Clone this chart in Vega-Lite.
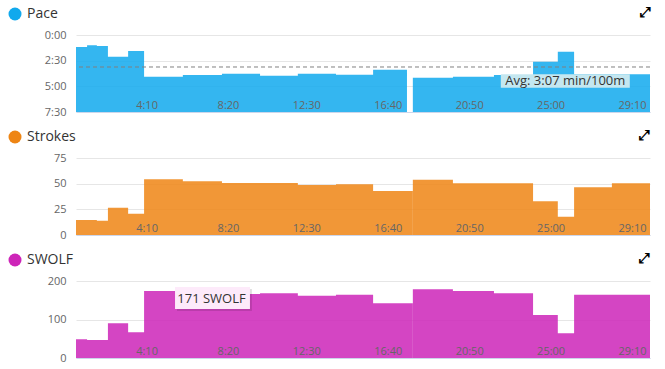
{
  "$schema": "https://vega.github.io/schema/vega-lite/v6.json",
  "padding": {"left": 8, "top": 6, "right": 5, "bottom": 5},
  "background": "#ffffff",
  "config": {
    "view": {"stroke": null},
    "font": "Open Sans",
    "axis": {"labelFont": "Open Sans", "labelFontSize": 11, "labelColor": "#666666"},
    "legend": {"labelFont": "Open Sans"}
  },
  "datasets": {
    "laps": [
      {"t": 0, "block": 1, "pace": 70, "strokes": 14.6, "swolf": 49},
      {"t": 34, "block": 1, "pace": 60, "strokes": 14.6, "swolf": 46.6},
      {"t": 64, "block": 1, "pace": 64, "strokes": 14, "swolf": 46.6},
      {"t": 98, "block": 1, "pace": 127, "strokes": 26.6, "swolf": 90.5},
      {"t": 160, "block": 1, "pace": 93, "strokes": 20.8, "swolf": 67},
      {"t": 209, "block": 1, "pace": 244, "strokes": 54.2, "swolf": 174},
      {"t": 328, "block": 1, "pace": 234, "strokes": 52.3, "swolf": 171},
      {"t": 448, "block": 1, "pace": 226, "strokes": 50.6, "swolf": 166},
      {"t": 565, "block": 1, "pace": 238, "strokes": 50.6, "swolf": 168},
      {"t": 681, "block": 1, "pace": 226, "strokes": 48.7, "swolf": 162},
      {"t": 798, "block": 1, "pace": 232, "strokes": 49.4, "swolf": 164.5},
      {"t": 912, "block": 1, "pace": 203, "strokes": 42.9, "swolf": 142},
      {"t": 1016, "block": 1, "pace": 203, "strokes": 42.9, "swolf": 142},
      {"t": 1034, "block": 2, "pace": 250, "strokes": 53.8, "swolf": 178.5},
      {"t": 1157, "block": 2, "pace": 244, "strokes": 50.3, "swolf": 174},
      {"t": 1283, "block": 2, "pace": 234, "strokes": 50.3, "swolf": 168},
      {"t": 1403, "block": 2, "pace": 156, "strokes": 32.8, "swolf": 112},
      {"t": 1479, "block": 2, "pace": 98, "strokes": 17.8, "swolf": 64.6},
      {"t": 1529, "block": 2, "pace": 230, "strokes": 46.4, "swolf": 164},
      {"t": 1645, "block": 2, "pace": 230, "strokes": 50.3, "swolf": 164},
      {"t": 1762, "block": 2, "pace": 230, "strokes": 50.3, "swolf": 164}
    ],
    "avg": [{"avgPace": 187, "t0": 1304, "t1": 1700, "p0": 230, "p1": 308, "tx": 1502, "py": 292, "label": "Avg: 3:07 min/100m"}],
    "tip": [{"t0": 304, "t1": 534, "s0": 127.5, "s1": 184.5, "st0": 310, "st1": 540, "ss0": 122, "ss1": 179.5, "tx": 416, "sy": 143, "label": "171 SWOLF"}]
  },
  "vconcat": [
    {
      "width": 574,
      "height": 77,
      "title": {"text": "⤢", "anchor": "end", "fontSize": 14, "fontWeight": "bold", "color": "#000000", "offset": -13, "font": "DejaVu Sans"},
      "layer": [
        {
          "data": {"name": "laps"},
          "mark": {"type": "area", "interpolate": "step-after", "fillOpacity": 0.85},
          "encoding": {
            "x": {"field": "t", "type": "quantitative", "title": null,
              "scale": {"domain": [0, 1762], "nice": false, "zero": false},
              "axis": {"values": [250, 500, 750, 1000, 1250, 1500, 1750], "labelExpr": "floor(datum.value/60) + ':' + (datum.value%60 < 10 ? '0' : '') + (datum.value%60)", "labelAlign": "right", "labelBaseline": "alphabetic", "labelPadding": -4, "ticks": false, "grid": false, "domainColor": "#ccd6eb", "zindex": 1, "labelFlush": false}},
            "y": {"field": "pace", "type": "quantitative", "title": null,
              "scale": {"domain": [0, 450], "reverse": true, "nice": false},
              "axis": {"values": [0, 150, 300, 450], "labelExpr": "floor(datum.value/60) + ':' + (datum.value%60 < 10 ? '0' : '') + (datum.value%60)", "ticks": false, "domain": false, "grid": true, "gridColor": "#e6e6e6", "labelPadding": 10, "labelOverlap": false, "zindex": 0}},
            "y2": {"datum": 450},
            "detail": {"field": "block"},
            "color": {"datum": "Pace", "scale": {"range": ["#11a9ed"]},
              "legend": {"orient": "none", "legendX": -68, "legendY": -28, "title": null, "symbolType": "circle", "symbolSize": 169, "symbolOpacity": 1, "symbolStrokeWidth": 0, "labelFontSize": 14, "labelColor": "#333333", "labelOffset": 5, "padding": 0}}
          }
        },
        {
          "data": {"name": "avg"},
          "mark": {"type": "rule", "strokeDash": [4, 3], "color": "#808080", "strokeWidth": 1},
          "encoding": {"y": {"field": "avgPace", "type": "quantitative", "title": null,
              "axis": {"values": [0, 150, 300, 450], "labelExpr": "floor(datum.value/60) + ':' + (datum.value%60 < 10 ? '0' : '') + (datum.value%60)", "ticks": false, "domain": false, "grid": true, "gridColor": "#e6e6e6", "labelPadding": 10, "labelOverlap": false, "zindex": 0}}}
        },
        {
          "data": {"name": "avg"},
          "mark": {"type": "rect", "color": "#c4e7f0"},
          "encoding": {
            "x": {"field": "t0", "type": "quantitative", "title": null,
              "axis": {"values": [250, 500, 750, 1000, 1250, 1500, 1750], "labelExpr": "floor(datum.value/60) + ':' + (datum.value%60 < 10 ? '0' : '') + (datum.value%60)", "labelAlign": "right", "labelBaseline": "alphabetic", "labelPadding": -4, "ticks": false, "grid": false, "domainColor": "#ccd6eb", "zindex": 1, "labelFlush": false}},
            "x2": {"field": "t1"},
            "y": {"field": "p0", "type": "quantitative", "title": null,
              "axis": {"values": [0, 150, 300, 450], "labelExpr": "floor(datum.value/60) + ':' + (datum.value%60 < 10 ? '0' : '') + (datum.value%60)", "ticks": false, "domain": false, "grid": true, "gridColor": "#e6e6e6", "labelPadding": 10, "labelOverlap": false, "zindex": 0}},
            "y2": {"field": "p1"}
          }
        },
        {
          "data": {"name": "avg"},
          "mark": {"type": "text", "font": "Open Sans", "fontSize": 13, "color": "#333333", "align": "center", "baseline": "alphabetic"},
          "encoding": {
            "x": {"field": "tx", "type": "quantitative", "title": null,
              "axis": {"values": [250, 500, 750, 1000, 1250, 1500, 1750], "labelExpr": "floor(datum.value/60) + ':' + (datum.value%60 < 10 ? '0' : '') + (datum.value%60)", "labelAlign": "right", "labelBaseline": "alphabetic", "labelPadding": -4, "ticks": false, "grid": false, "domainColor": "#ccd6eb", "zindex": 1, "labelFlush": false}},
            "y": {"field": "py", "type": "quantitative", "title": null,
              "axis": {"values": [0, 150, 300, 450], "labelExpr": "floor(datum.value/60) + ':' + (datum.value%60 < 10 ? '0' : '') + (datum.value%60)", "ticks": false, "domain": false, "grid": true, "gridColor": "#e6e6e6", "labelPadding": 10, "labelOverlap": false, "zindex": 0}},
            "text": {"field": "label"}
          }
        }
      ]
    },
    {
      "width": 574,
      "height": 77,
      "title": {"text": "⤢", "anchor": "end", "fontSize": 14, "fontWeight": "bold", "color": "#000000", "offset": -13, "font": "DejaVu Sans"},
      "data": {"name": "laps"},
      "mark": {"type": "area", "interpolate": "step-after", "fillOpacity": 0.85},
      "encoding": {
        "x": {"field": "t", "type": "quantitative", "title": null,
          "scale": {"domain": [0, 1762], "nice": false, "zero": false},
          "axis": {"values": [250, 500, 750, 1000, 1250, 1500, 1750], "labelExpr": "floor(datum.value/60) + ':' + (datum.value%60 < 10 ? '0' : '') + (datum.value%60)", "labelAlign": "right", "labelBaseline": "alphabetic", "labelPadding": -4, "ticks": false, "grid": false, "domainColor": "#ccd6eb", "zindex": 1, "labelFlush": false}},
        "y": {"field": "strokes", "type": "quantitative", "title": null,
          "scale": {"domain": [0, 75], "nice": false},
          "axis": {"values": [0, 25, 50, 75], "ticks": false, "domain": false, "grid": true, "gridColor": "#e6e6e6", "labelPadding": 10, "labelOverlap": false, "zindex": 0}},
        "detail": {"field": "block"},
        "color": {"datum": "Strokes", "scale": {"range": ["#ee8514"]},
          "legend": {"orient": "none", "legendX": -68, "legendY": -28, "title": null, "symbolType": "circle", "symbolSize": 169, "symbolOpacity": 1, "symbolStrokeWidth": 0, "labelFontSize": 14, "labelColor": "#333333", "labelOffset": 5, "padding": 0}}
      }
    },
    {
      "width": 574,
      "height": 77,
      "title": {"text": "⤢", "anchor": "end", "fontSize": 14, "fontWeight": "bold", "color": "#000000", "offset": -13, "font": "DejaVu Sans"},
      "layer": [
        {
          "data": {"name": "laps"},
          "mark": {"type": "area", "interpolate": "step-after", "fillOpacity": 0.85},
          "encoding": {
            "x": {"field": "t", "type": "quantitative", "title": null,
              "scale": {"domain": [0, 1762], "nice": false, "zero": false},
              "axis": {"values": [250, 500, 750, 1000, 1250, 1500, 1750], "labelExpr": "floor(datum.value/60) + ':' + (datum.value%60 < 10 ? '0' : '') + (datum.value%60)", "labelAlign": "right", "labelBaseline": "alphabetic", "labelPadding": -4, "ticks": false, "grid": false, "domainColor": "#ccd6eb", "zindex": 1, "labelFlush": false}},
            "y": {"field": "swolf", "type": "quantitative", "title": null,
              "scale": {"domain": [0, 200], "nice": false},
              "axis": {"values": [0, 100, 200], "ticks": false, "domain": false, "grid": true, "gridColor": "#e6e6e6", "labelPadding": 10, "labelOverlap": false, "zindex": 0}},
            "detail": {"field": "block"},
            "color": {"datum": "SWOLF", "scale": {"range": ["#cd25b8"]},
              "legend": {"orient": "none", "legendX": -68, "legendY": -28, "title": null, "symbolType": "circle", "symbolSize": 169, "symbolOpacity": 1, "symbolStrokeWidth": 0, "labelFontSize": 14, "labelColor": "#333333", "labelOffset": 5, "padding": 0}}
          }
        },
        {
          "data": {"name": "tip"},
          "mark": {"type": "rect", "color": "#000000", "opacity": 0.12},
          "encoding": {
            "x": {"field": "st0", "type": "quantitative", "title": null,
              "axis": {"values": [250, 500, 750, 1000, 1250, 1500, 1750], "labelExpr": "floor(datum.value/60) + ':' + (datum.value%60 < 10 ? '0' : '') + (datum.value%60)", "labelAlign": "right", "labelBaseline": "alphabetic", "labelPadding": -4, "ticks": false, "grid": false, "domainColor": "#ccd6eb", "zindex": 1, "labelFlush": false}},
            "x2": {"field": "st1"},
            "y": {"field": "ss0", "type": "quantitative", "title": null,
              "axis": {"values": [0, 100, 200], "ticks": false, "domain": false, "grid": true, "gridColor": "#e6e6e6", "labelPadding": 10, "labelOverlap": false, "zindex": 0}},
            "y2": {"field": "ss1"}
          }
        },
        {
          "data": {"name": "tip"},
          "mark": {"type": "rect", "color": "#fdeafa", "opacity": 1},
          "encoding": {
            "x": {"field": "t0", "type": "quantitative", "title": null,
              "axis": {"values": [250, 500, 750, 1000, 1250, 1500, 1750], "labelExpr": "floor(datum.value/60) + ':' + (datum.value%60 < 10 ? '0' : '') + (datum.value%60)", "labelAlign": "right", "labelBaseline": "alphabetic", "labelPadding": -4, "ticks": false, "grid": false, "domainColor": "#ccd6eb", "zindex": 1, "labelFlush": false}},
            "x2": {"field": "t1"},
            "y": {"field": "s0", "type": "quantitative", "title": null,
              "axis": {"values": [0, 100, 200], "ticks": false, "domain": false, "grid": true, "gridColor": "#e6e6e6", "labelPadding": 10, "labelOverlap": false, "zindex": 0}},
            "y2": {"field": "s1"}
          }
        },
        {
          "data": {"name": "tip"},
          "mark": {"type": "text", "font": "Open Sans", "fontSize": 13, "color": "#333333", "align": "center", "baseline": "alphabetic"},
          "encoding": {
            "x": {"field": "tx", "type": "quantitative", "title": null,
              "axis": {"values": [250, 500, 750, 1000, 1250, 1500, 1750], "labelExpr": "floor(datum.value/60) + ':' + (datum.value%60 < 10 ? '0' : '') + (datum.value%60)", "labelAlign": "right", "labelBaseline": "alphabetic", "labelPadding": -4, "ticks": false, "grid": false, "domainColor": "#ccd6eb", "zindex": 1, "labelFlush": false}},
            "y": {"field": "sy", "type": "quantitative", "title": null,
              "axis": {"values": [0, 100, 200], "ticks": false, "domain": false, "grid": true, "gridColor": "#e6e6e6", "labelPadding": 10, "labelOverlap": false, "zindex": 0}},
            "text": {"field": "label"}
          }
        }
      ]
    }
  ],
  "spacing": 46,
  "bounds": "flush",
  "resolve": {"scale": {"color": "independent", "x": "independent", "y": "independent"}, "legend": {"color": "independent"}}
}
